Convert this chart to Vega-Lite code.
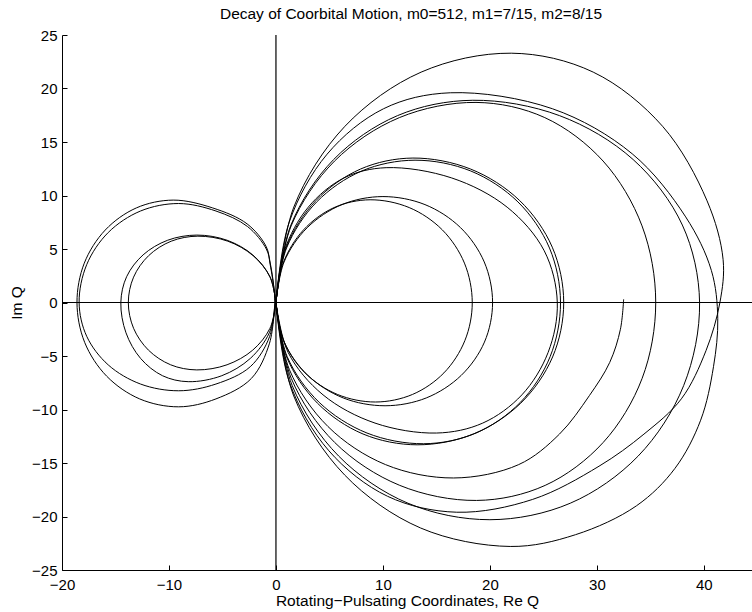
{
"$schema": "https://vega.github.io/schema/vega-lite/v6.json",
"width": 690, "height": 535,
"autosize": {"type": "none"},
"padding": {"left": 62, "top": 35, "right": 0, "bottom": 42},
"background": "white",
"config": {"view": {"stroke": null}, "font": "Liberation Sans"},
"title": {"text": "Decay of Coorbital Motion, m0=512, m1=7/15, m2=8/15", "font": "Liberation Sans", "fontSize": 15.5, "fontWeight": "normal", "color": "black", "anchor": "middle", "offset": 6, "dx": 4},
"encoding": {
  "x": {"field": "x", "type": "quantitative", "scale": {"domain": [-20, 44.5], "nice": false, "zero": false},
    "axis": {"title": "Rotating−Pulsating Coordinates, Re Q", "values": [-20, -10, 0, 10, 20, 30, 40], "grid": false, "tickSize": -5, "tickColor": "black", "domainColor": "black", "domainWidth": 1, "tickWidth": 1, "labelFont": "Liberation Sans", "labelFontSize": 15, "labelColor": "black", "labelPadding": 12, "labelFlush": false, "labelOverlap": false, "titleFont": "Liberation Sans", "titleFontSize": 15.5, "titleFontWeight": "normal", "titleColor": "black", "titlePadding": 1}},
  "y": {"field": "y", "type": "quantitative", "scale": {"domain": [-25, 25], "nice": false, "zero": false},
    "axis": {"title": "Im Q", "values": [-25, -20, -15, -10, -5, 0, 5, 10, 15, 20, 25], "grid": false, "tickSize": -5, "tickColor": "black", "domainColor": "black", "domainWidth": 1, "tickWidth": 1, "labelFont": "Liberation Sans", "labelFontSize": 15, "labelColor": "black", "labelPadding": 10, "labelFlush": false, "labelOverlap": false, "titleFont": "Liberation Sans", "titleFontSize": 15.5, "titleFontWeight": "normal", "titleColor": "black", "titlePadding": 7}}
},
"layer": [
  {"data": {"values": [{"x": -20, "y": 0, "x2": 44.5, "y2": 0}, {"x": 0, "y": -25, "x2": 0, "y2": 25}]},
   "mark": {"type": "rule", "color": "black", "strokeWidth": 1.2},
   "encoding": {"x2": {"field": "x2"}, "y2": {"field": "y2"}}},
  {"data": {"values": [
{"loop":"A","i":0,"x":0,"y":0},{"loop":"A","i":1,"x":0.67,"y":3.68},{"loop":"A","i":2,"x":2.58,"y":6.79},{"loop":"A","i":3,"x":5.43,"y":8.87},{"loop":"A","i":4,"x":8.8,"y":9.6},{"loop":"A","i":5,"x":12.46,"y":8.87},{"loop":"A","i":6,"x":15.55,"y":6.79},{"loop":"A","i":7,"x":17.62,"y":3.68},{"loop":"A","i":8,"x":18.35,"y":0},{"loop":"A","i":9,"x":17.66,"y":-3.56},{"loop":"A","i":10,"x":15.7,"y":-6.58},{"loop":"A","i":11,"x":12.77,"y":-8.59},{"loop":"A","i":12,"x":9.3,"y":-9.3},{"loop":"A","i":13,"x":5.74,"y":-8.59},{"loop":"A","i":14,"x":2.72,"y":-6.58},{"loop":"A","i":15,"x":0.71,"y":-3.56},{"loop":"A","i":16,"x":0,"y":0},
{"loop":"B","i":0,"x":0,"y":0},{"loop":"B","i":1,"x":0.76,"y":3.79},{"loop":"B","i":2,"x":2.93,"y":7.0},{"loop":"B","i":3,"x":6.17,"y":9.15},{"loop":"B","i":4,"x":10.0,"y":9.9},{"loop":"B","i":5,"x":13.93,"y":9.15},{"loop":"B","i":6,"x":17.25,"y":7.0},{"loop":"B","i":7,"x":19.47,"y":3.79},{"loop":"B","i":8,"x":20.25,"y":0},{"loop":"B","i":9,"x":19.49,"y":-3.7},{"loop":"B","i":10,"x":17.31,"y":-6.82},{"loop":"B","i":11,"x":14.05,"y":-8.92},{"loop":"B","i":12,"x":10.2,"y":-9.65},{"loop":"B","i":13,"x":6.29,"y":-8.92},{"loop":"B","i":14,"x":2.99,"y":-6.82},{"loop":"B","i":15,"x":0.78,"y":-3.7},{"loop":"B","i":16,"x":0,"y":0},
{"loop":"C","i":0,"x":0,"y":0},{"loop":"C","i":1,"x":0.78,"y":4.83},{"loop":"C","i":2,"x":3.02,"y":8.91},{"loop":"C","i":3,"x":6.36,"y":11.64},{"loop":"C","i":4,"x":10.3,"y":12.6},{"loop":"C","i":5,"x":16.43,"y":11.64},{"loop":"C","i":6,"x":21.61,"y":8.91},{"loop":"C","i":7,"x":25.08,"y":4.83},{"loop":"C","i":8,"x":26.3,"y":0},{"loop":"C","i":9,"x":25.44,"y":-4.67},{"loop":"C","i":10,"x":22.99,"y":-8.63},{"loop":"C","i":11,"x":19.33,"y":-11.27},{"loop":"C","i":12,"x":15.0,"y":-12.2},{"loop":"C","i":13,"x":9.26,"y":-11.27},{"loop":"C","i":14,"x":4.4,"y":-8.63},{"loop":"C","i":15,"x":1.14,"y":-4.67},{"loop":"C","i":16,"x":0,"y":0},
{"loop":"D","i":0,"x":0,"y":0},{"loop":"D","i":1,"x":0.97,"y":5.17},{"loop":"D","i":2,"x":3.75,"y":9.54},{"loop":"D","i":3,"x":7.9,"y":12.47},{"loop":"D","i":4,"x":12.8,"y":13.5},{"loop":"D","i":5,"x":18.2,"y":12.47},{"loop":"D","i":6,"x":22.77,"y":9.54},{"loop":"D","i":7,"x":25.83,"y":5.17},{"loop":"D","i":8,"x":26.9,"y":0},{"loop":"D","i":9,"x":25.86,"y":-5.09},{"loop":"D","i":10,"x":22.89,"y":-9.4},{"loop":"D","i":11,"x":18.45,"y":-12.29},{"loop":"D","i":12,"x":13.2,"y":-13.3},{"loop":"D","i":13,"x":8.14,"y":-12.29},{"loop":"D","i":14,"x":3.87,"y":-9.4},{"loop":"D","i":15,"x":1.0,"y":-5.09},{"loop":"D","i":16,"x":0,"y":0},
{"loop":"E","i":0,"x":0,"y":0},{"loop":"E","i":1,"x":0.99,"y":5.09},{"loop":"E","i":2,"x":3.81,"y":9.4},{"loop":"E","i":3,"x":8.02,"y":12.29},{"loop":"E","i":4,"x":13.0,"y":13.3},{"loop":"E","i":5,"x":18.21,"y":12.29},{"loop":"E","i":6,"x":22.62,"y":9.4},{"loop":"E","i":7,"x":25.57,"y":5.09},{"loop":"E","i":8,"x":26.6,"y":0},{"loop":"E","i":9,"x":25.63,"y":-5.06},{"loop":"E","i":10,"x":22.85,"y":-9.33},{"loop":"E","i":11,"x":18.7,"y":-12.2},{"loop":"E","i":12,"x":13.8,"y":-13.2},{"loop":"E","i":13,"x":8.51,"y":-12.2},{"loop":"E","i":14,"x":4.04,"y":-9.33},{"loop":"E","i":15,"x":1.05,"y":-5.06},{"loop":"E","i":16,"x":0,"y":0},
{"loop":"F","i":0,"x":32.5,"y":0.3},{"loop":"F","i":1,"x":32.2,"y":-2.5},{"loop":"F","i":2,"x":31.2,"y":-5.6},{"loop":"F","i":3,"x":29.3,"y":-8.7},{"loop":"F","i":4,"x":26.5,"y":-12.3},{"loop":"F","i":5,"x":22.69,"y":-15.15},{"loop":"F","i":6,"x":16.6,"y":-16.4},{"loop":"F","i":7,"x":10.24,"y":-15.15},{"loop":"F","i":8,"x":4.86,"y":-11.59},{"loop":"F","i":9,"x":1.26,"y":-6.28},{"loop":"F","i":10,"x":0,"y":0},
{"loop":"G","i":0,"x":0,"y":0},{"loop":"G","i":1,"x":1.42,"y":7.16},{"loop":"G","i":2,"x":5.48,"y":13.22},{"loop":"G","i":3,"x":11.54,"y":17.28},{"loop":"G","i":4,"x":18.7,"y":18.7},{"loop":"G","i":5,"x":25.13,"y":17.28},{"loop":"G","i":6,"x":30.58,"y":13.22},{"loop":"G","i":7,"x":34.22,"y":7.16},{"loop":"G","i":8,"x":35.5,"y":0},{"loop":"G","i":9,"x":34.23,"y":-7.09},{"loop":"G","i":10,"x":30.59,"y":-13.08},{"loop":"G","i":11,"x":25.17,"y":-17.09},{"loop":"G","i":12,"x":18.75,"y":-18.5},{"loop":"G","i":13,"x":11.57,"y":-17.09},{"loop":"G","i":14,"x":5.49,"y":-13.08},{"loop":"G","i":15,"x":1.43,"y":-7.09},{"loop":"G","i":16,"x":0,"y":0},
{"loop":"H","i":0,"x":0,"y":0},{"loop":"H","i":1,"x":1.4,"y":7.24},{"loop":"H","i":2,"x":5.39,"y":13.36},{"loop":"H","i":3,"x":11.35,"y":17.46},{"loop":"H","i":4,"x":18.4,"y":18.9},{"loop":"H","i":5,"x":26.52,"y":17.46},{"loop":"H","i":6,"x":33.39,"y":13.36},{"loop":"H","i":7,"x":37.99,"y":7.24},{"loop":"H","i":8,"x":39.6,"y":0},{"loop":"H","i":9,"x":38.11,"y":-7.77},{"loop":"H","i":10,"x":33.86,"y":-14.35},{"loop":"H","i":11,"x":27.51,"y":-18.76},{"loop":"H","i":12,"x":20.0,"y":-20.3},{"loop":"H","i":13,"x":12.34,"y":-18.76},{"loop":"H","i":14,"x":5.86,"y":-14.35},{"loop":"H","i":15,"x":1.52,"y":-7.77},{"loop":"H","i":16,"x":0,"y":0},
{"loop":"I","i":0,"x":0,"y":0},{"loop":"I","i":1,"x":1.24,"y":7.51},{"loop":"I","i":2,"x":4.78,"y":13.86},{"loop":"I","i":3,"x":10.06,"y":18.11},{"loop":"I","i":4,"x":16.3,"y":19.6},{"loop":"I","i":5,"x":25.84,"y":18.11},{"loop":"I","i":6,"x":33.3,"y":13.9},{"loop":"I","i":7,"x":38.3,"y":8.0},{"loop":"I","i":8,"x":40.7,"y":3.0},{"loop":"I","i":9,"x":41.3,"y":-1.5},{"loop":"I","i":10,"x":40.9,"y":-6.0},{"loop":"I","i":11,"x":39.7,"y":-11.0},{"loop":"I","i":12,"x":37.3,"y":-15.5},{"loop":"I","i":13,"x":33.7,"y":-19.0},{"loop":"I","i":14,"x":28.0,"y":-21.7},{"loop":"I","i":15,"x":21.9,"y":-22.8},{"loop":"I","i":16,"x":13.51,"y":-21.07},{"loop":"I","i":17,"x":6.42,"y":-16.12},{"loop":"I","i":18,"x":1.66,"y":-8.73},{"loop":"I","i":19,"x":0,"y":0},
{"loop":"J","i":0,"x":0,"y":0},{"loop":"J","i":1,"x":1.67,"y":8.92},{"loop":"J","i":2,"x":6.45,"y":16.47},{"loop":"J","i":3,"x":13.57,"y":21.53},{"loop":"J","i":4,"x":22.0,"y":23.3},{"loop":"J","i":5,"x":29.66,"y":21.53},{"loop":"J","i":6,"x":36.14,"y":16.47},{"loop":"J","i":7,"x":40.3,"y":9.5},{"loop":"J","i":8,"x":41.8,"y":4.0},{"loop":"J","i":9,"x":41.5,"y":0},{"loop":"J","i":10,"x":40.2,"y":-4.5},{"loop":"J","i":11,"x":37.9,"y":-9.0},{"loop":"J","i":12,"x":34.4,"y":-12.3},{"loop":"J","i":13,"x":30.2,"y":-15.3},{"loop":"J","i":14,"x":24.0,"y":-18.4},{"loop":"J","i":15,"x":16.9,"y":-19.6},{"loop":"J","i":16,"x":10.43,"y":-18.11},{"loop":"J","i":17,"x":4.95,"y":-13.86},{"loop":"J","i":18,"x":1.28,"y":-7.51},{"loop":"J","i":19,"x":0,"y":0},
{"loop":"L1","i":0,"x":-0.1,"y":0},{"loop":"L1","i":1,"x":-0.15,"y":1.0},{"loop":"L1","i":2,"x":-0.55,"y":3.6},{"loop":"L1","i":3,"x":-0.9,"y":5.2},{"loop":"L1","i":4,"x":-2.7,"y":7.35},{"loop":"L1","i":5,"x":-5.92,"y":8.84},{"loop":"L1","i":6,"x":-9.6,"y":9.57},{"loop":"L1","i":7,"x":-13.05,"y":8.84},{"loop":"L1","i":8,"x":-15.96,"y":6.77},{"loop":"L1","i":9,"x":-17.92,"y":3.67},{"loop":"L1","i":10,"x":-18.6,"y":0},{"loop":"L1","i":11,"x":-17.88,"y":-3.73},{"loop":"L1","i":12,"x":-15.82,"y":-6.89},{"loop":"L1","i":13,"x":-12.74,"y":-9.01},{"loop":"L1","i":14,"x":-9.1,"y":-9.75},{"loop":"L1","i":15,"x":-5.61,"y":-9.01},{"loop":"L1","i":16,"x":-2.3,"y":-7.1},{"loop":"L1","i":17,"x":-0.6,"y":-3.8},{"loop":"L1","i":18,"x":-0.1,"y":0},
{"loop":"L2","i":0,"x":-0.1,"y":0},{"loop":"L2","i":1,"x":-0.15,"y":1.0},{"loop":"L2","i":2,"x":-0.5,"y":3.5},{"loop":"L2","i":3,"x":-0.9,"y":5.0},{"loop":"L2","i":4,"x":-2.66,"y":7.1},{"loop":"L2","i":5,"x":-5.61,"y":8.55},{"loop":"L2","i":6,"x":-9.1,"y":9.25},{"loop":"L2","i":7,"x":-12.66,"y":8.55},{"loop":"L2","i":8,"x":-15.68,"y":6.54},{"loop":"L2","i":9,"x":-17.69,"y":3.54},{"loop":"L2","i":10,"x":-18.4,"y":0},{"loop":"L2","i":11,"x":-17.69,"y":-3.16},{"loop":"L2","i":12,"x":-15.68,"y":-5.83},{"loop":"L2","i":13,"x":-12.66,"y":-7.62},{"loop":"L2","i":14,"x":-9.1,"y":-8.25},{"loop":"L2","i":15,"x":-5.61,"y":-7.62},{"loop":"L2","i":16,"x":-2.4,"y":-6.0},{"loop":"L2","i":17,"x":-0.6,"y":-3.2},{"loop":"L2","i":18,"x":-0.1,"y":0},
{"loop":"L3","i":0,"x":0,"y":0},{"loop":"L3","i":1,"x":-0.56,"y":2.41},{"loop":"L3","i":2,"x":-2.17,"y":4.45},{"loop":"L3","i":3,"x":-4.57,"y":5.82},{"loop":"L3","i":4,"x":-7.4,"y":6.3},{"loop":"L3","i":5,"x":-10.12,"y":5.82},{"loop":"L3","i":6,"x":-12.42,"y":4.45},{"loop":"L3","i":7,"x":-13.96,"y":2.41},{"loop":"L3","i":8,"x":-14.5,"y":0},{"loop":"L3","i":9,"x":-14.02,"y":-2.83},{"loop":"L3","i":10,"x":-12.65,"y":-5.23},{"loop":"L3","i":11,"x":-10.61,"y":-6.84},{"loop":"L3","i":12,"x":-8.2,"y":-7.4},{"loop":"L3","i":13,"x":-5.06,"y":-6.84},{"loop":"L3","i":14,"x":-2.4,"y":-5.23},{"loop":"L3","i":15,"x":-0.62,"y":-2.83},{"loop":"L3","i":16,"x":0,"y":0},
{"loop":"L4","i":0,"x":0,"y":0},{"loop":"L4","i":1,"x":-0.55,"y":2.37},{"loop":"L4","i":2,"x":-2.14,"y":4.38},{"loop":"L4","i":3,"x":-4.5,"y":5.73},{"loop":"L4","i":4,"x":-7.3,"y":6.2},{"loop":"L4","i":5,"x":-9.79,"y":5.73},{"loop":"L4","i":6,"x":-11.9,"y":4.38},{"loop":"L4","i":7,"x":-13.31,"y":2.37},{"loop":"L4","i":8,"x":-13.8,"y":0},{"loop":"L4","i":9,"x":-13.31,"y":-2.41},{"loop":"L4","i":10,"x":-11.92,"y":-4.45},{"loop":"L4","i":11,"x":-9.85,"y":-5.82},{"loop":"L4","i":12,"x":-7.4,"y":-6.3},{"loop":"L4","i":13,"x":-4.57,"y":-5.82},{"loop":"L4","i":14,"x":-2.17,"y":-4.45},{"loop":"L4","i":15,"x":-0.56,"y":-2.41},{"loop":"L4","i":16,"x":0,"y":0}
  ]},
   "mark": {"type": "line", "interpolate": "catmull-rom", "color": "black", "strokeWidth": 1, "clip": true},
   "encoding": {"detail": {"field": "loop"}, "order": {"field": "i", "type": "quantitative"}}}
]
}
